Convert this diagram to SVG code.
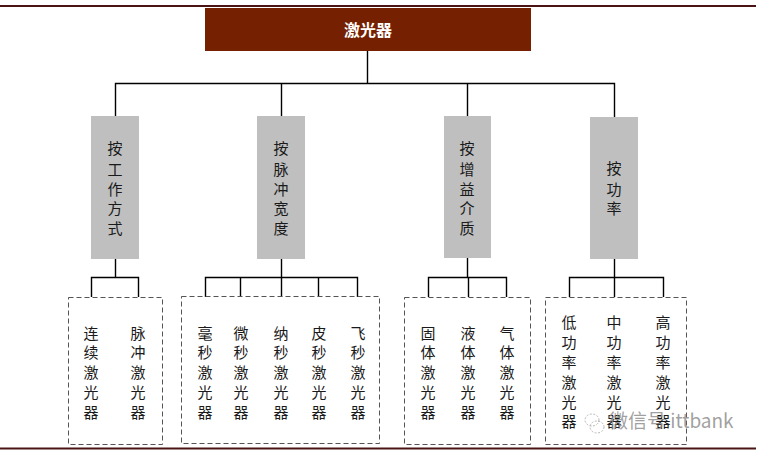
<svg xmlns="http://www.w3.org/2000/svg" width="759" height="455" viewBox="0 0 759 455">
<style>
text{font-family:"Noto Sans CJK SC","Liberation Sans",sans-serif;text-anchor:middle;fill:#1a1a1a;font-size:15px}
.cat{fill:#bfbfbf}
.box{fill:none;stroke:#555;stroke-width:1;stroke-dasharray:5 3}
.rule{stroke:#4a1414;stroke-width:2;fill:none}
.con{stroke:#000;stroke-width:1.4;fill:none}
.wm{fill:#8f8f8f;fill-opacity:.85;font-size:19px;text-anchor:start}
.wl{fill:none;stroke:#a8a8a8;stroke-width:.8;stroke-dasharray:2 1.500}
</style>
<rect width="759" height="455" fill="#fff"/>
<path class="rule" d="M0 6H756M0 448.500H756"/>
<g id="connectors">
<path class="con" d="M367.500 51V83.500M115.500 117V83.500H614.500V117M281.500 83.500V117M467.500 83.500V117"/>
<path class="con" d="M115.500 259V277.500M91.500 297V277.500H138.500V297"/>
<path class="con" d="M281.500 259V297M205.500 297V277.500H357.500V297M240.500 277.500V297M318.500 277.500V297"/>
<path class="con" d="M467.500 258V277.500M428.500 297V277.500H506.500V297M468.500 277.500V297"/>
<path class="con" d="M614.500 259V297M569.500 297V277.500H663.500V297"/>
</g>
<g id="root"><rect x="205" y="8" width="326" height="43" fill="#752000"/><text x="368" y="36" style="fill:#fff;font-weight:700;font-size:16px">激光器</text></g>
<g id="cat1"><rect class="cat" x="91" y="116" width="48" height="143"/><text x="115" y="154">按</text><text x="115" y="175">工</text><text x="115" y="195">作</text><text x="115" y="214">方</text><text x="115" y="234">式</text></g>
<g id="cat2"><rect class="cat" x="257" y="116" width="48" height="143"/><text x="281" y="154">按</text><text x="281" y="175">脉</text><text x="281" y="195">冲</text><text x="281" y="214">宽</text><text x="281" y="234">度</text></g>
<g id="cat3"><rect class="cat" x="444" y="116" width="47" height="142"/><text x="467" y="154">按</text><text x="467" y="175">增</text><text x="467" y="195">益</text><text x="467" y="214">介</text><text x="467" y="234">质</text></g>
<g id="cat4"><rect class="cat" x="590" y="117" width="48" height="142"/><text x="614" y="174">按</text><text x="614" y="195">功</text><text x="614" y="214">率</text></g>
<g id="group1"><rect class="box" x="68.500" y="297.500" width="94" height="147"/>
<g><text x="91" y="339">连</text><text x="91" y="358">续</text><text x="91" y="378">激</text><text x="91" y="398">光</text><text x="91" y="418">器</text></g>
<g><text x="138" y="339">脉</text><text x="138" y="358">冲</text><text x="138" y="378">激</text><text x="138" y="398">光</text><text x="138" y="418">器</text></g></g>
<g id="group2"><rect class="box" x="181.500" y="296.500" width="198" height="147"/>
<g><text x="205" y="339">毫</text><text x="205" y="358">秒</text><text x="205" y="378">激</text><text x="205" y="398">光</text><text x="205" y="418">器</text></g>
<g><text x="241" y="339">微</text><text x="241" y="358">秒</text><text x="241" y="378">激</text><text x="241" y="398">光</text><text x="241" y="418">器</text></g>
<g><text x="281" y="339">纳</text><text x="281" y="358">秒</text><text x="281" y="378">激</text><text x="281" y="398">光</text><text x="281" y="418">器</text></g>
<g><text x="319" y="339">皮</text><text x="319" y="358">秒</text><text x="319" y="378">激</text><text x="319" y="398">光</text><text x="319" y="418">器</text></g>
<g><text x="358" y="339">飞</text><text x="358" y="358">秒</text><text x="358" y="378">激</text><text x="358" y="398">光</text><text x="358" y="418">器</text></g></g>
<g id="group3"><rect class="box" x="404.500" y="297.500" width="126" height="147"/>
<g><text x="428" y="339">固</text><text x="428" y="358">体</text><text x="428" y="378">激</text><text x="428" y="398">光</text><text x="428" y="418">器</text></g>
<g><text x="468" y="339">液</text><text x="468" y="358">体</text><text x="468" y="378">激</text><text x="468" y="398">光</text><text x="468" y="418">器</text></g>
<g><text x="507" y="339">气</text><text x="507" y="358">体</text><text x="507" y="378">激</text><text x="507" y="398">光</text><text x="507" y="418">器</text></g></g>
<g id="group4"><rect class="box" x="545.500" y="297.500" width="141" height="147"/>
<g><text x="569" y="328">低</text><text x="569" y="348">功</text><text x="569" y="368">率</text><text x="569" y="388">激</text><text x="569" y="408">光</text><text x="569" y="427">器</text></g>
<g><text x="614" y="328">中</text><text x="614" y="348">功</text><text x="614" y="368">率</text><text x="614" y="388">激</text><text x="614" y="408">光</text><text x="614" y="427">器</text></g>
<g><text x="663" y="328">高</text><text x="663" y="348">功</text><text x="663" y="368">率</text><text x="663" y="388">激</text><text x="663" y="408">光</text><text x="663" y="427">器</text></g></g>
<g id="watermark"><ellipse class="wl" cx="592" cy="420" rx="7" ry="6"/><ellipse class="wl" cx="597" cy="427" rx="7" ry="6"/><text class="wm" x="609" y="428">微信号 ittbank</text></g>
</svg>
